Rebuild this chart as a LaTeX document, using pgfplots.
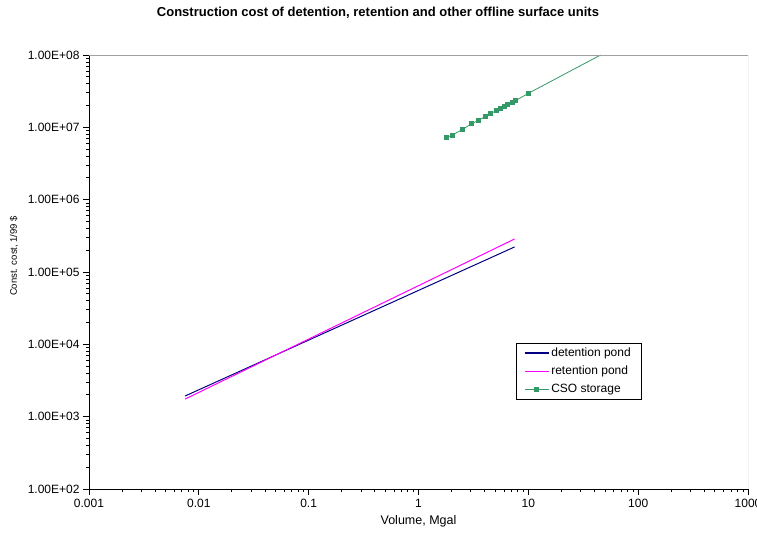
\documentclass[border=0pt]{standalone}
\usepackage{fontspec}
\setmainfont{Liberation Sans}
\usepackage{pgfplots}
\pgfplotsset{compat=1.18}
\definecolor{detblue}{HTML}{000080}
\definecolor{retpink}{HTML}{FF00FF}
\definecolor{csogreen}{HTML}{339966}
\definecolor{framegray}{HTML}{A0A0A0}

\begin{document}
\begin{tikzpicture}
\begin{axis}[
  scale only axis,
  width=659pt,height=434pt,
  xmode=log,ymode=log,
  xmin=0.001,xmax=1000,ymin=100,ymax=1e8,
  axis lines*=left,
  axis line style={black,line width=0.9pt},
  tick align=outside,
  major tick length=6pt,
  minor tick num=0,
  xtick={0.001,0.01,0.1,1,10,100,1000},
  xticklabels={0.001,0.01,0.1,1,10,100,1000},
  ytick={1e2,1e3,1e4,1e5,1e6,1e7,1e8},
  yticklabels={1.00E+02,1.00E+03,1.00E+04,1.00E+05,1.00E+06,1.00E+07,1.00E+08},
  tick label style={font=\fontsize{12}{14}\selectfont},
  xticklabel style={yshift=-1pt},
  every x tick/.style={black,line width=0.9pt},
  every y tick/.style={black,line width=0.9pt},
  xlabel={Volume, Mgal},
  ylabel={Const. cost, 1/99 \$},
  every axis x label/.style={at={(rel axis cs:0.5,0)},yshift=-32pt,anchor=center,font=\fontsize{12.5}{14}\selectfont},
  every axis y label/.style={at={(rel axis cs:0,0.537)},xshift=-75pt,rotate=90,anchor=center,font=\fontsize{9.5}{11}\selectfont},
  title={\bfseries Construction cost of detention, retention and other offline surface units},
  every axis title/.style={font=\fontsize{13}{15}\selectfont,at={(rel axis cs:0.4385,1)},yshift=42pt,anchor=center},
  legend style={at={(rel axis cs:0.648,0.337)},anchor=north west,draw=black,
    font=\fontsize{12}{14}\selectfont,inner xsep=8pt,inner ysep=3pt,
    row sep=4pt,cells={anchor=west}},
]
\addplot[detblue,line width=1pt,
  legend image code/.code={\draw[detblue,line width=1.1pt] (0pt,0pt) -- (24pt,0pt);}]
  coordinates {(0.0075,1930) (7.5,2.22e5)};
\addlegendentry{detention pond}
\addplot[retpink,line width=1pt,
  legend image code/.code={\draw[retpink,line width=1.1pt] (0pt,0pt) -- (24pt,0pt);}]
  coordinates {(0.0075,1750) (7.5,2.86e5)};
\addlegendentry{retention pond}
\addplot[csogreen,line width=0.8pt,mark=square*,mark size=2pt,mark indices={1,...,14},
  legend image code/.code={\draw[csogreen,line width=0.9pt] (0pt,0pt) -- (24pt,0pt);
    \fill[csogreen] (10pt,-2pt) rectangle (14pt,2pt);}]
  coordinates {
  (1.80,7.2e6) (2.02,7.8e6) (2.53,9.4e6) (3.03,1.12e7) (3.53,1.25e7) (4.06,1.42e7)
  (4.52,1.56e7) (5.12,1.69e7) (5.56,1.83e7) (6.05,1.92e7) (6.48,2.07e7) (7.11,2.21e7)
  (7.62,2.33e7) (10.0,2.95e7) (45.5,1.0e8)};
\addlegendentry{CSO storage}
\draw[framegray,line width=0.9pt] (rel axis cs:0,1) -- (rel axis cs:1,1) -- (rel axis cs:1,0);
\end{axis}
\pgfresetboundingbox
\path (current axis.south west) ++(-89pt,-46pt) coordinate (bbl);
\path (current axis.north east) ++(9pt,55pt) coordinate (bbr);
\path[use as bounding box] (bbl) rectangle (bbr);
\end{tikzpicture}
\end{document}
